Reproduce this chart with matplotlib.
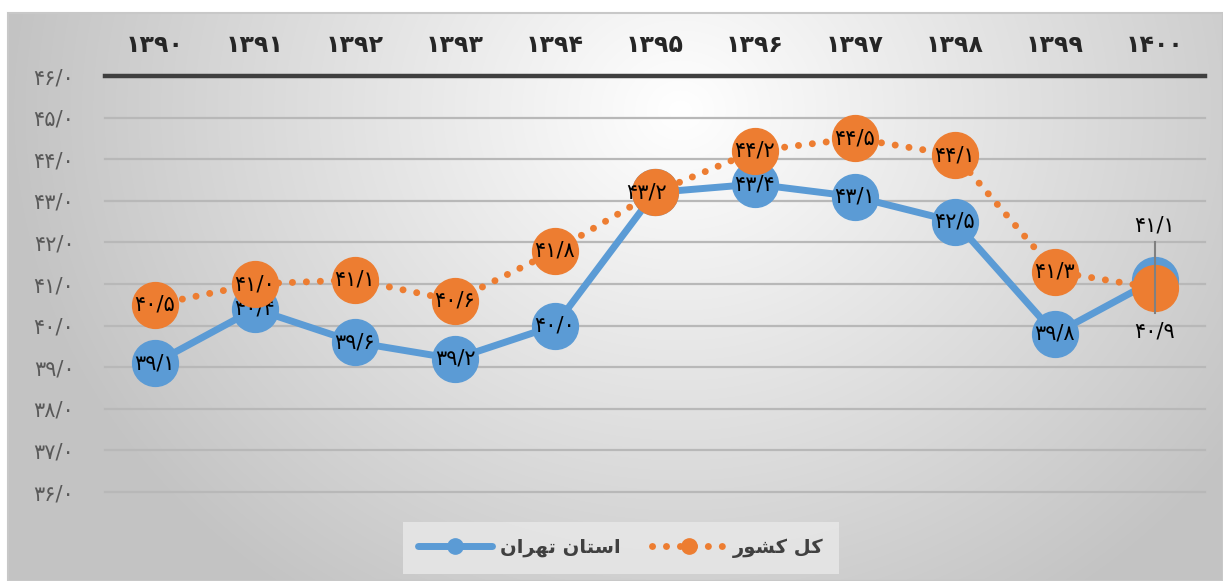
import numpy as np
import matplotlib
matplotlib.use("Agg")
import matplotlib.pyplot as plt
from matplotlib.lines import Line2D
from matplotlib.patches import Rectangle

years = ["۱۳۹۰", "۱۳۹۱", "۱۳۹۲", "۱۳۹۳", "۱۳۹۴", "۱۳۹۵", "۱۳۹۶", "۱۳۹۷", "۱۳۹۸", "۱۳۹۹", "۱۴۰۰"]
tehran = [39.1, 40.4, 39.6, 39.2, 40.0, 43.2, 43.4, 43.1, 42.5, 39.8, 41.1]
country = [40.5, 41.0, 41.1, 40.6, 41.8, 43.2, 44.2, 44.5, 44.1, 41.3, 40.9]
yticks = [36, 37, 38, 39, 40, 41, 42, 43, 44, 45, 46]
# pre-shaped (visual order) Persian legend labels
label_tehran = "\uFEE5\uFE8D\uFEAE\uFEEC\uFE97 \uFEE5\uFE8E\uFE98\uFEB3\uFE8D"   # استان تهران
label_country = "\uFEAD\uFEEE\uFEB8\uFB90 \uFEDE\uFB90"                        # کل کشور

FA = str.maketrans("0123456789.", "۰۱۲۳۴۵۶۷۸۹/")
def fa(v):
    return f"{v:.1f}".translate(FA)

W, H = 1223, 581
fig = plt.figure(figsize=(W / 100, H / 100), dpi=100)
fig.patch.set_facecolor("white")

# background gradient
bg = fig.add_axes([0, 0, 1, 1], zorder=-5)
yy, xx = np.mgrid[0:H, 0:W]
d = np.sqrt(((xx - 680) / 700.0) ** 2 + ((yy - 110) / 620.0) ** 2)
g = np.clip(255 - 62 * d, 195, 255) / 255.0
img = np.dstack([g, g, g])
img[:13, :, :] = 1.0
img[:, :8, :] = 1.0
bg.imshow(img, extent=[0, W, H, 0], aspect="auto", interpolation="bilinear")
bg.add_patch(Rectangle((8, 13), W - 8, H - 13, fill=False, edgecolor="#c8c8c8", lw=1.5))
bg.set_xlim(0, W)
bg.set_ylim(H, 0)
bg.axis("off")

ax = fig.add_axes([105 / W, 1 - 492 / H, 1100 / W, 416 / H])
ax.patch.set_alpha(0)
x = np.arange(len(years))
ax.set_xlim(-0.5, 10.5)
ax.set_ylim(36, 46)

for t in yticks[:-1]:
    ax.axhline(t, color="#b8b8b8", lw=1.6, zorder=1, clip_on=False)
ax.axhline(46, color="#3f3f3f", lw=3.2, zorder=2, clip_on=False)

for s in ax.spines.values():
    s.set_visible(False)

ax.xaxis.tick_top()
ax.set_xticks(x)
ax.set_xticklabels(years, fontsize=17, color="#262626", fontweight="bold", family=["DejaVu Sans"])
ax.tick_params(axis="x", length=0, pad=14)
ax.set_yticks(yticks)
ax.set_yticklabels([fa(v) for v in yticks], fontsize=15, color="#595959", family=["DejaVu Sans"])
ax.tick_params(axis="y", length=0, pad=22)

blue = "#5B9BD5"
orange = "#ED7D31"

ax.plot(x, tehran, color=blue, lw=5, solid_capstyle="round", zorder=3)
ax.plot(x, tehran, ls="none", marker="o", ms=33, color=blue, mec=blue, zorder=4)
for i, v in enumerate(tehran):
    if i in (5, 10):
        continue
    ax.text(i, v, fa(v), ha="center", va="center", fontsize=15, color="black", zorder=5)

ax.plot(x, country, color=orange, lw=5, ls=(0, (0.01, 2.0)), dash_capstyle="round", zorder=6)
ax.plot(x, country, ls="none", marker="o", ms=33, color=orange, mec=orange, zorder=7)
for i, v in enumerate(country):
    if i == 10:
        continue
    dx = -0.08 if i == 5 else 0
    ax.text(i + dx, v, fa(v), ha="center", va="center", fontsize=15, color="black", zorder=8)

# leader labels for 1400
ax.plot([10, 10], [42.0, 40.3], color="#808080", lw=1.5, zorder=9)
ax.text(10, 42.4, fa(tehran[10]), ha="center", va="center", fontsize=15, color="black", zorder=9)
ax.text(10, 39.85, fa(country[10]), ha="center", va="center", fontsize=15, color="black", zorder=9)

handles = [
    Line2D([], [], color=blue, lw=5, marker="o", ms=11, solid_capstyle="round"),
    Line2D([], [], color=orange, lw=5, ls=(0, (0.01, 2.0)), dash_capstyle="round", marker="o", ms=11),
]
leg = fig.legend(handles, [label_tehran, label_country], loc="center", bbox_to_anchor=(621 / W, 1 - 548 / H),
                 ncol=2, frameon=True, fontsize=14, handlelength=3.8, columnspacing=1.6,
                 borderpad=0.8, handletextpad=0.4)
leg.get_frame().set_facecolor("#e6e6e6")
leg.get_frame().set_edgecolor("none")
leg.get_frame().set_alpha(0.9)
leg.get_frame().set_boxstyle("square", pad=0)
for t in leg.get_texts():
    t.set_color("#404040")
    t.set_fontweight("bold")

fig.savefig("out.png", dpi=100)
